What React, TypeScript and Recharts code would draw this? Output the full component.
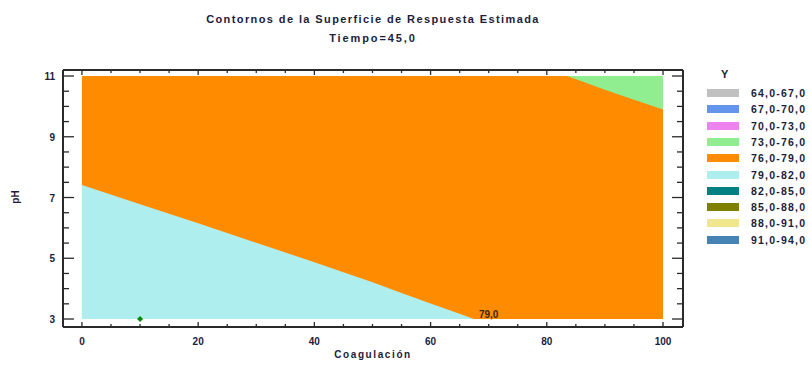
import React from "react";
import {
  ComposedChart,
  Area,
  Scatter,
  XAxis,
  YAxis,
  ReferenceDot,
} from "recharts";

// coagulation ticks (every 5, labelled every 20)
const coagTicks = [0, 5, 10, 15, 20, 25, 30, 35, 40, 45, 50, 55, 60, 65, 70, 75, 80, 85, 90, 95, 100];
// pH ticks (every 0.5, labelled 3,5,7,9,11)
const phTicks = [3, 3.5, 4, 4.5, 5, 5.5, 6, 6.5, 7, 7.5, 8, 8.5, 9, 9.5, 10, 10.5, 11];

// full surface region (76,0-79,0)
const surfX = [0, 100];
const surfLow = [3, 3];
const surfHigh = [11, 11];

// 79,0 contour: below it lies the 79,0-82,0 region
const cyanX = [0, 10, 20, 30, 40, 50, 55, 60, 64, 67.5];
const cyanPH = [7.41, 6.78, 6.15, 5.51, 4.87, 4.21, 3.86, 3.51, 3.24, 3.0];

// 76,0 contour: above it lies the 73,0-76,0 region
const greenX = [83.5, 90, 95, 100];
const greenPH = [11, 10.55, 10.22, 9.9];

// design point
const pointX = [10];
const pointY = [3];

// contour labels
const contourLabelX = [70];
const contourLabelY = [3.14];
const contourLabelText = ["79,0"];

const legendRanges = [
  "64,0-67,0",
  "67,0-70,0",
  "70,0-73,0",
  "73,0-76,0",
  "76,0-79,0",
  "79,0-82,0",
  "82,0-85,0",
  "85,0-88,0",
  "88,0-91,0",
  "91,0-94,0",
];
const legendColors = [
  "#C0C0C0",
  "#6495ED",
  "#EE82EE",
  "#90EE90",
  "#FF8C00",
  "#AFEEEE",
  "#008080",
  "#808000",
  "#F0E68C",
  "#4682B4",
];

const FONT = "'Liberation Sans', Arial, sans-serif";
const TEXT = "#1c1c3c";
const FRAME = "#2a2a2a";

const surfData = surfX.map((x, i) => ({ x, band: [surfLow[i], surfHigh[i]] }));
const cyanData = cyanX.map((x, i) => ({ x, band: [3, cyanPH[i]] }));
const greenData = greenX.map((x, i) => ({ x, band: [greenPH[i], 11] }));
const pointData = pointX.map((x, i) => ({ x, y: pointY[i] }));

function makeXTick(side: "bottom" | "top") {
  return (props: any) => {
    const { x, y, payload } = props;
    const major = payload.value % 20 === 0;
    const len = major ? 5 : 3;
    const dir = side === "bottom" ? -1 : 1;
    return (
      <g>
        <line x1={x} x2={x} y1={y} y2={y + dir * len} stroke={FRAME} strokeWidth={1.3} />
        {side === "bottom" && major && (
          <text x={x} y={y + 18} textAnchor="middle" fontSize={10} fontWeight="bold" fontFamily={FONT} fill={TEXT}>
            {payload.value}
          </text>
        )}
      </g>
    );
  };
}

function makeYTick(side: "left" | "right") {
  return (props: any) => {
    const { x, y, payload } = props;
    const major = payload.value % 2 === 1;
    const len = major ? 11 : 6;
    const dir = side === "left" ? 1 : -1;
    return (
      <g>
        <line x1={x} x2={x + dir * len} y1={y} y2={y} stroke={FRAME} strokeWidth={1.3} />
        {side === "left" && major && (
          <text x={x - 8} y={y + 4} textAnchor="end" fontSize={10} fontWeight="bold" fontFamily={FONT} fill={TEXT}>
            {payload.value}
          </text>
        )}
      </g>
    );
  };
}

const xDomain: [number, number] = [-3.26, 103.44];
const yDomain: [number, number] = [2.737, 11.198];

export default function App() {
  return (
    <div style={{ position: "absolute", left: 0, top: 0, width: 812, height: 365, background: "#fff", fontFamily: FONT }}>
      <div
        style={{
          position: "absolute",
          left: 53,
          width: 640,
          top: 10,
          textAlign: "center",
          fontSize: 11,
          fontWeight: "bold",
          color: TEXT,
          letterSpacing: 1.4,
          lineHeight: "19px",
        }}
      >
        <div>Contornos de la Superficie de Respuesta Estimada</div>
        <div style={{ letterSpacing: 1.9 }}>Tiempo=45,0</div>
      </div>

      <ComposedChart width={812} height={365} margin={{ top: 69, right: 128, bottom: 0, left: 0 }}>
        <XAxis
          xAxisId="b"
          dataKey="x"
          type="number"
          domain={xDomain}
          allowDataOverflow
          ticks={coagTicks}
          interval={0}
          height={38}
          tickSize={0}
          tickMargin={0}
          tickLine={false}
          axisLine={{ stroke: FRAME, strokeWidth: 2 }}
          tick={makeXTick("bottom")}
        />
        <XAxis
          xAxisId="t"
          orientation="top"
          dataKey="x"
          type="number"
          domain={xDomain}
          allowDataOverflow
          ticks={coagTicks}
          interval={0}
          height={1}
          tickSize={0}
          tickMargin={0}
          tickLine={false}
          axisLine={{ stroke: FRAME, strokeWidth: 2 }}
          tick={makeXTick("top")}
        />
        <YAxis
          yAxisId="l"
          type="number"
          domain={yDomain}
          allowDataOverflow
          ticks={phTicks}
          interval={0}
          width={63}
          tickSize={0}
          tickMargin={0}
          tickLine={false}
          axisLine={{ stroke: FRAME, strokeWidth: 2 }}
          tick={makeYTick("left")}
        />
        <YAxis
          yAxisId="r"
          orientation="right"
          type="number"
          domain={yDomain}
          allowDataOverflow
          ticks={phTicks}
          interval={0}
          width={1}
          tickSize={0}
          tickMargin={0}
          tickLine={false}
          axisLine={{ stroke: FRAME, strokeWidth: 2 }}
          tick={makeYTick("right")}
        />
        <Area
          xAxisId="t"
          yAxisId="r"
          data={surfData}
          dataKey="band"
          type="linear"
          stroke="none"
          fill="#FF8C00"
          fillOpacity={1}
          isAnimationActive={false}
          activeDot={false}
        />
        <Area
          xAxisId="b"
          yAxisId="l"
          data={cyanData}
          dataKey="band"
          type="linear"
          stroke="none"
          fill="#AFEEEE"
          fillOpacity={1}
          isAnimationActive={false}
          activeDot={false}
        />
        <Area
          xAxisId="b"
          yAxisId="l"
          data={greenData}
          dataKey="band"
          type="linear"
          stroke="none"
          fill="#90EE90"
          fillOpacity={1}
          isAnimationActive={false}
          activeDot={false}
        />
        <Scatter
          xAxisId="b"
          yAxisId="l"
          data={pointData}
          dataKey="y"
          isAnimationActive={false}
          shape={(p: any) => (
            <path
              d={`M${p.cx},${p.cy - 3}L${p.cx + 3},${p.cy}L${p.cx},${p.cy + 3}L${p.cx - 3},${p.cy}Z`}
              fill="#0a8a0a"
            />
          )}
        />
        {contourLabelX.map((x, i) => (
          <ReferenceDot
            key={i}
            xAxisId="b"
            yAxisId="l"
            x={x}
            y={contourLabelY[i]}
            r={0}
            stroke="none"
            label={{
              value: contourLabelText[i],
              position: "center",
              fontSize: 10,
              fontWeight: "bold",
              fontFamily: FONT,
              fill: "#3a2a10",
            }}
          />
        ))}
      </ComposedChart>

      <div
        style={{
          position: "absolute",
          left: 6,
          top: 197,
          transform: "translate(-50%, -50%) rotate(-90deg)",
          transformOrigin: "center",
          marginLeft: 9,
          fontSize: 10,
          fontWeight: "bold",
          color: TEXT,
          whiteSpace: "nowrap",
        }}
      >
        pH
      </div>
      <div
        style={{
          position: "absolute",
          left: 63,
          width: 620,
          top: 349,
          textAlign: "center",
          fontSize: 10,
          fontWeight: "bold",
          color: TEXT,
          letterSpacing: 1.6,
        }}
      >
        Coagulación
      </div>

      <div
        style={{
          position: "absolute",
          left: 721,
          top: 68,
          fontSize: 11,
          fontWeight: "bold",
          color: TEXT,
        }}
      >
        Y
      </div>
      {legendRanges.map((r, i) => (
        <div
          key={r}
          style={{
            position: "absolute",
            left: 707,
            top: 86 + i * 16.3,
            height: 14,
            display: "flex",
            alignItems: "center",
            whiteSpace: "nowrap",
          }}
        >
          <div style={{ width: 32, height: 8, background: legendColors[i] }} />
          <div
            style={{
              marginLeft: 12,
              fontSize: 10.5,
              fontWeight: "bold",
              color: TEXT,
              letterSpacing: 1.2,
            }}
          >
            {r}
          </div>
        </div>
      ))}
    </div>
  );
}
